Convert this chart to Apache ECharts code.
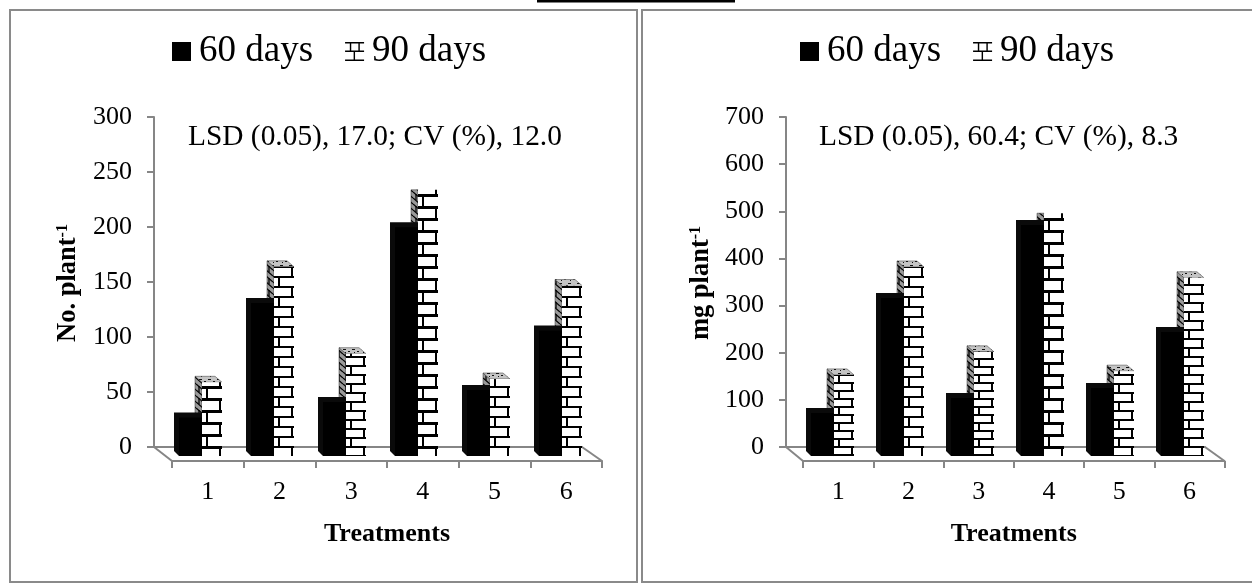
<!DOCTYPE html>
<html><head><meta charset="utf-8">
<style>html,body{margin:0;padding:0;background:#fff}#c{width:1252px;height:584px}</style>
<script src="https://cdn.jsdelivr.net/npm/echarts@6/dist/echarts.min.js"></script>
</head><body><div id="c"></div>
<script>
const categories = ['1','2','3','4','5','6'];
const seriesNames = ['60 days','90 days'];
const left60 = [35,139,49,208,60,114];
const left90 = [67,172,93,242,70,155];
const right60 = [91,335,123,490,144,263];
const right90 = [172,401,221,515,180,378];
const leftNote = 'LSD (0.05), 17.0; CV (%), 12.0';
const rightNote = 'LSD (0.05), 60.4; CV (%), 8.3';
const xTitle = 'Treatments';

const SERIF = '"Liberation Serif","Times New Roman",serif';
const AXIS = '#868686';
// brick course height of the pattern fill, per bar (style only)
const leftCourses = [12,10,9,12,10,10];
const rightCourses = [8,10,8,12,9,9];

function tile(w,h,draw){const c=document.createElement('canvas');c.width=w;c.height=h;draw(c.getContext('2d'));return c;}
// brick front: tile width = band width so the vertical joints stay in phase on each bar
function brick(w,rh,x0,y0){
  const H=rh*2, t=rh>=12?3:2;
  return {image:tile(w,H,g=>{
    g.fillStyle='#fff';g.fillRect(0,0,w,H);g.fillStyle='#000';
    const ya=y0%H, yb=(y0+rh)%H;
    const xa=(x0+17)%w, xb=(x0+4)%w;
    for(let i=0;i<t;i++){for(let x=0;x<w;x++){g.fillRect(x,(ya+i)%H,1,1);g.fillRect(x,(yb+i)%H,1,1);}}
    for(let i=0;i<rh;i++){
      g.fillRect(xa,(ya+i)%H,2,1);
      g.fillRect(xb,(yb+i)%H,2,1);
    }
  }),repeat:'repeat'};
}
const sidePat={image:tile(7,12,g=>{
  g.fillStyle='#9a9a9a';g.fillRect(0,0,7,12);g.strokeStyle='#000';g.lineWidth=1.3;
  for(const o of [-6,0,6,12]){g.beginPath();g.moveTo(0,o);g.lineTo(7,o+6);g.stroke();}
  g.beginPath();g.moveTo(3,2);g.lineTo(3,8);g.stroke();
}),repeat:'repeat'};
const capPat={image:tile(9,6,g=>{g.fillStyle='#c4c4c4';g.fillRect(0,0,9,6);g.fillStyle='#111';g.fillRect(1,1,3,1);g.fillRect(6,3,2,1);g.fillRect(3,4,1,1);}),repeat:'repeat'};

const W60=23,W90=20,SD=5,BD=7,BY=6;
function depth(gridIndex,vals,isBrick){
  const maxV=Math.max(...vals);
  return {type:'custom',name:(isBrick?'90':'60')+' depth',xAxisIndex:gridIndex,yAxisIndex:gridIndex,silent:true,z:1,clip:false,
    data:vals.map((v,i)=>[i,v]),
    encode:{x:0,y:1},
    renderItem(p,api){
      const c=api.coord([api.value(0),api.value(1)]);
      const b=api.coord([api.value(0),0]);
      const cx=c[0]-(W60+W90)/2;
      if(!isBrick){
        const xL=cx,xR=cx+W60,t=c[1],bt=b[1];
        return {type:'polygon',shape:{points:[[xL-SD,t-SD],[xR,t-SD],[xR,bt],[xL,bt],[xL-SD,bt-SD]]},style:{fill:'#0a0a0a'}};
      }
      const xL=cx+W60,xR=xL+W90,t=c[1],bt=b[1],top=api.value(1)===maxV;
      const ch=[{type:'polygon',shape:{points:[[xL-BD,t-(top?0:BY)],[xL,t],[xL,bt],[xL-BD,bt-BY]]},style:{fill:sidePat,stroke:'#333',lineWidth:.5}}];
      if(!top) ch.push({type:'polygon',shape:{points:[[xL-BD,t-BY],[xR-BD,t-BY],[xR,t],[xL,t]]},style:{fill:capPat,stroke:'#333',lineWidth:.5}});
      return {type:'group',children:ch};
    }};
}

const P=[
 {axisX:154,backW:428,frontX:172,frontW:430,barX:164.5,band:72,max:300,iv:50,v60:left60,v90:left90,courses:leftCourses,bx:202},
 {axisX:786,backW:419,frontX:803,frontW:421.5,barX:797.5,band:70,max:700,iv:100,v60:right60,v90:right90,courses:rightCourses,bx:834}
];
const grids=[],xs=[],ys=[],series=[];
P.forEach((p,k)=>{
  const g0=k*3;
  grids.push({left:p.axisX,top:117,width:p.backW,height:330});
  xs.push({gridIndex:g0,type:'category',data:categories,axisLine:{lineStyle:{color:AXIS,width:2}},axisTick:{show:false},axisLabel:{show:false}});
  ys.push({gridIndex:g0,type:'value',min:0,max:p.max,interval:p.iv,splitLine:{show:false},
    axisLine:{show:true,lineStyle:{color:AXIS,width:2}},axisTick:{show:true,length:7,lineStyle:{color:AXIS,width:2}},
    axisLabel:{color:'#000',fontFamily:SERIF,fontSize:26,margin:22}});
  grids.push({left:p.frontX,top:131,width:p.frontW,height:330});
  xs.push({gridIndex:g0+1,type:'category',data:categories,axisLine:{lineStyle:{color:AXIS,width:2}},
    axisTick:{show:true,length:7,lineStyle:{color:AXIS,width:2}},
    axisLabel:{color:'#000',fontFamily:SERIF,fontSize:26,margin:18},
    name:xTitle,nameLocation:'middle',nameGap:60,nameTextStyle:{color:'#000',fontFamily:SERIF,fontSize:26,fontWeight:'bold'}});
  ys.push({gridIndex:g0+1,type:'value',min:0,max:p.max,show:false});
  grids.push({left:p.barX,top:126,width:p.band*6,height:330});
  xs.push({gridIndex:g0+2,type:'category',data:categories,show:false});
  ys.push({gridIndex:g0+2,type:'value',min:0,max:p.max,show:false});
  series.push(depth(g0+2,p.v90,true));
  series.push(depth(g0+2,p.v60,false));
  series.push({type:'bar',name:seriesNames[0],xAxisIndex:g0+2,yAxisIndex:g0+2,data:p.v60,barWidth:W60,barGap:0,itemStyle:{color:'#000'},z:3,silent:true});
  series.push({type:'bar',name:seriesNames[1],xAxisIndex:g0+2,yAxisIndex:g0+2,barWidth:W90,barGap:0,z:3,silent:true,
    data:p.v90.map((v,i)=>({value:v,itemStyle:{color:brick(p.band,p.courses[i],p.bx,446)}}))});
});

const brickIcon='path://M0 0H20V1.5H0ZM5 1.5H6.5V9H5ZM14 1.5H15.5V9H14ZM0 9H20V10.5H0ZM9 10.5H10.5V18.5H9ZM0 18.5H20V20H0Z';
function legend(left){
  return {left,top:33,padding:0,orient:'horizontal',itemGap:32,itemWidth:19,itemHeight:19,selectedMode:false,
    textStyle:{fontFamily:SERIF,fontSize:37,color:'#000',padding:[0,0,0,3]},
    data:[{name:seriesNames[0],icon:'rect',itemStyle:{color:'#000'}},{name:seriesNames[1],icon:brickIcon,itemStyle:{color:'#000'}}]};
}
function box(x,y,w,h){return {type:'rect',shape:{x,y,width:w,height:h},style:{fill:'none',stroke:'#8a8a8a',lineWidth:2},z:-1};}
function diag(x1,y1,x2,y2){return {type:'line',shape:{x1,y1,x2,y2},style:{stroke:AXIS,lineWidth:2},z:0};}
function note(x,txt){return {type:'text',x,y:137,style:{text:txt,fontFamily:SERIF,fontSize:29.4,fill:'#000',verticalAlign:'middle'},z:5};}
function yTitle(x,y,main,size){return {type:'text',x,y,rotation:Math.PI/2,
  style:{text:'{m|'+main+'}{s|-1}',align:'center',verticalAlign:'middle',rich:{
    m:{fontFamily:SERIF,fontSize:size,fontWeight:'bold',fill:'#000'},
    s:{fontFamily:SERIF,fontSize:Math.round(size*.62),fontWeight:'bold',fill:'#000',verticalAlign:'top',padding:[0,0,Math.round(size*.4),0]}}},z:5};}

echarts.init(document.getElementById('c'),null,{renderer:'canvas'}).setOption({
  animation:false,backgroundColor:'#fff',
  grid:grids,xAxis:xs,yAxis:ys,series,
  legend:[legend(172),legend(800)],
  graphic:[
    {type:'rect',shape:{x:537,y:0,width:198,height:2.5},style:{fill:'#000'}},
    box(10,10,627,572),
    {type:'polyline',shape:{points:[[1252,10],[642,10],[642,582],[1252,582]]},style:{fill:'none',stroke:'#8a8a8a',lineWidth:2}},
    diag(154,447,172,461),diag(582,447,602,461),
    diag(786,447,803,461),diag(1205,447,1224.5,461),
    note(188,leftNote),note(819,rightNote),
    yTitle(68,283,'No. plant',26.5),yTitle(701,283,'mg plant',26.5)
  ]
});
</script></body></html>
